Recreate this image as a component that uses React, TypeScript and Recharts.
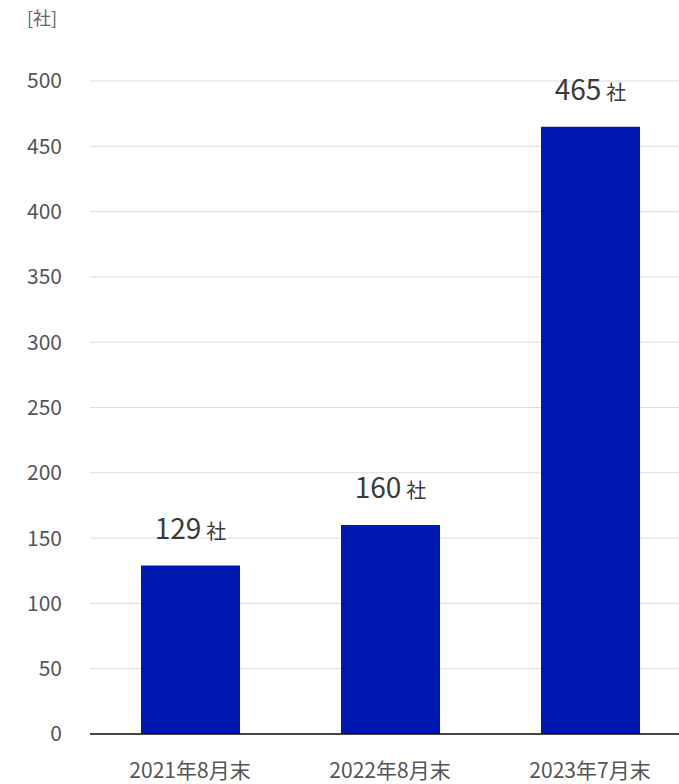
import { Bar, BarChart, CartesianGrid, LabelList, XAxis, YAxis } from "recharts";
import { type JSX } from "react";

const categories: string[] = ["2021年8月末", "2022年8月末", "2023年7月末"];
const companies: number[] = [129, 160, 465];
const yTicks: number[] = [0, 50, 100, 150, 200, 250, 300, 350, 400, 450, 500];

const data = categories.map((name, i) => ({ name, value: companies[i] }));

const FONT = "'Noto Sans CJK JP', 'Noto Sans', sans-serif";

const ValueLabel = (props: any) => {
  const { x, y, width, value } = props;
  return (
    <text
      x={x + width / 2}
      y={y - 27}
      textAnchor="middle"
      fill="#3a3a3a"
      fontFamily={FONT}
    >
      <tspan fontSize={28}>{value}</tspan>
      <tspan fontSize={20} dx={5}>
        社
      </tspan>
    </text>
  );
};

const App = (): JSX.Element => {
  return (
    <div
      style={{
        position: "absolute",
        left: 0,
        top: 0,
        width: 679,
        height: 784,
        overflow: "hidden",
        background: "#fff",
        fontFamily: FONT,
      }}
    >
      <div
        style={{
          position: "absolute",
          left: 27,
          top: 4,
          fontSize: 18,
          lineHeight: "26px",
          color: "#666",
        }}
      >
        [社]
      </div>
      <BarChart
        width={690}
        height={784}
        data={data}
        margin={{ top: 81, right: 0, bottom: 0, left: 0 }}
        barSize={99}
      >
        <CartesianGrid vertical={false} stroke="#dcdcdc" />
        <XAxis
          dataKey="name"
          height={50}
          tickLine={false}
          tickSize={0}
          tickMargin={29}
          axisLine={{ stroke: "#111", strokeWidth: 1.5 }}
          tick={{ fontSize: 21, fill: "#555", fontFamily: FONT }}
        />
        <YAxis
          width={90}
          domain={[0, 500]}
          ticks={yTicks}
          tickLine={false}
          tickSize={0}
          tickMargin={28}
          axisLine={false}
          tick={{ fontSize: 21, fill: "#555", fontFamily: FONT }}
        />
        <Bar dataKey="value" fill="#0018b2" isAnimationActive={false}>
          <LabelList dataKey="value" content={ValueLabel} />
        </Bar>
      </BarChart>
    </div>
  );
};

export default App;
